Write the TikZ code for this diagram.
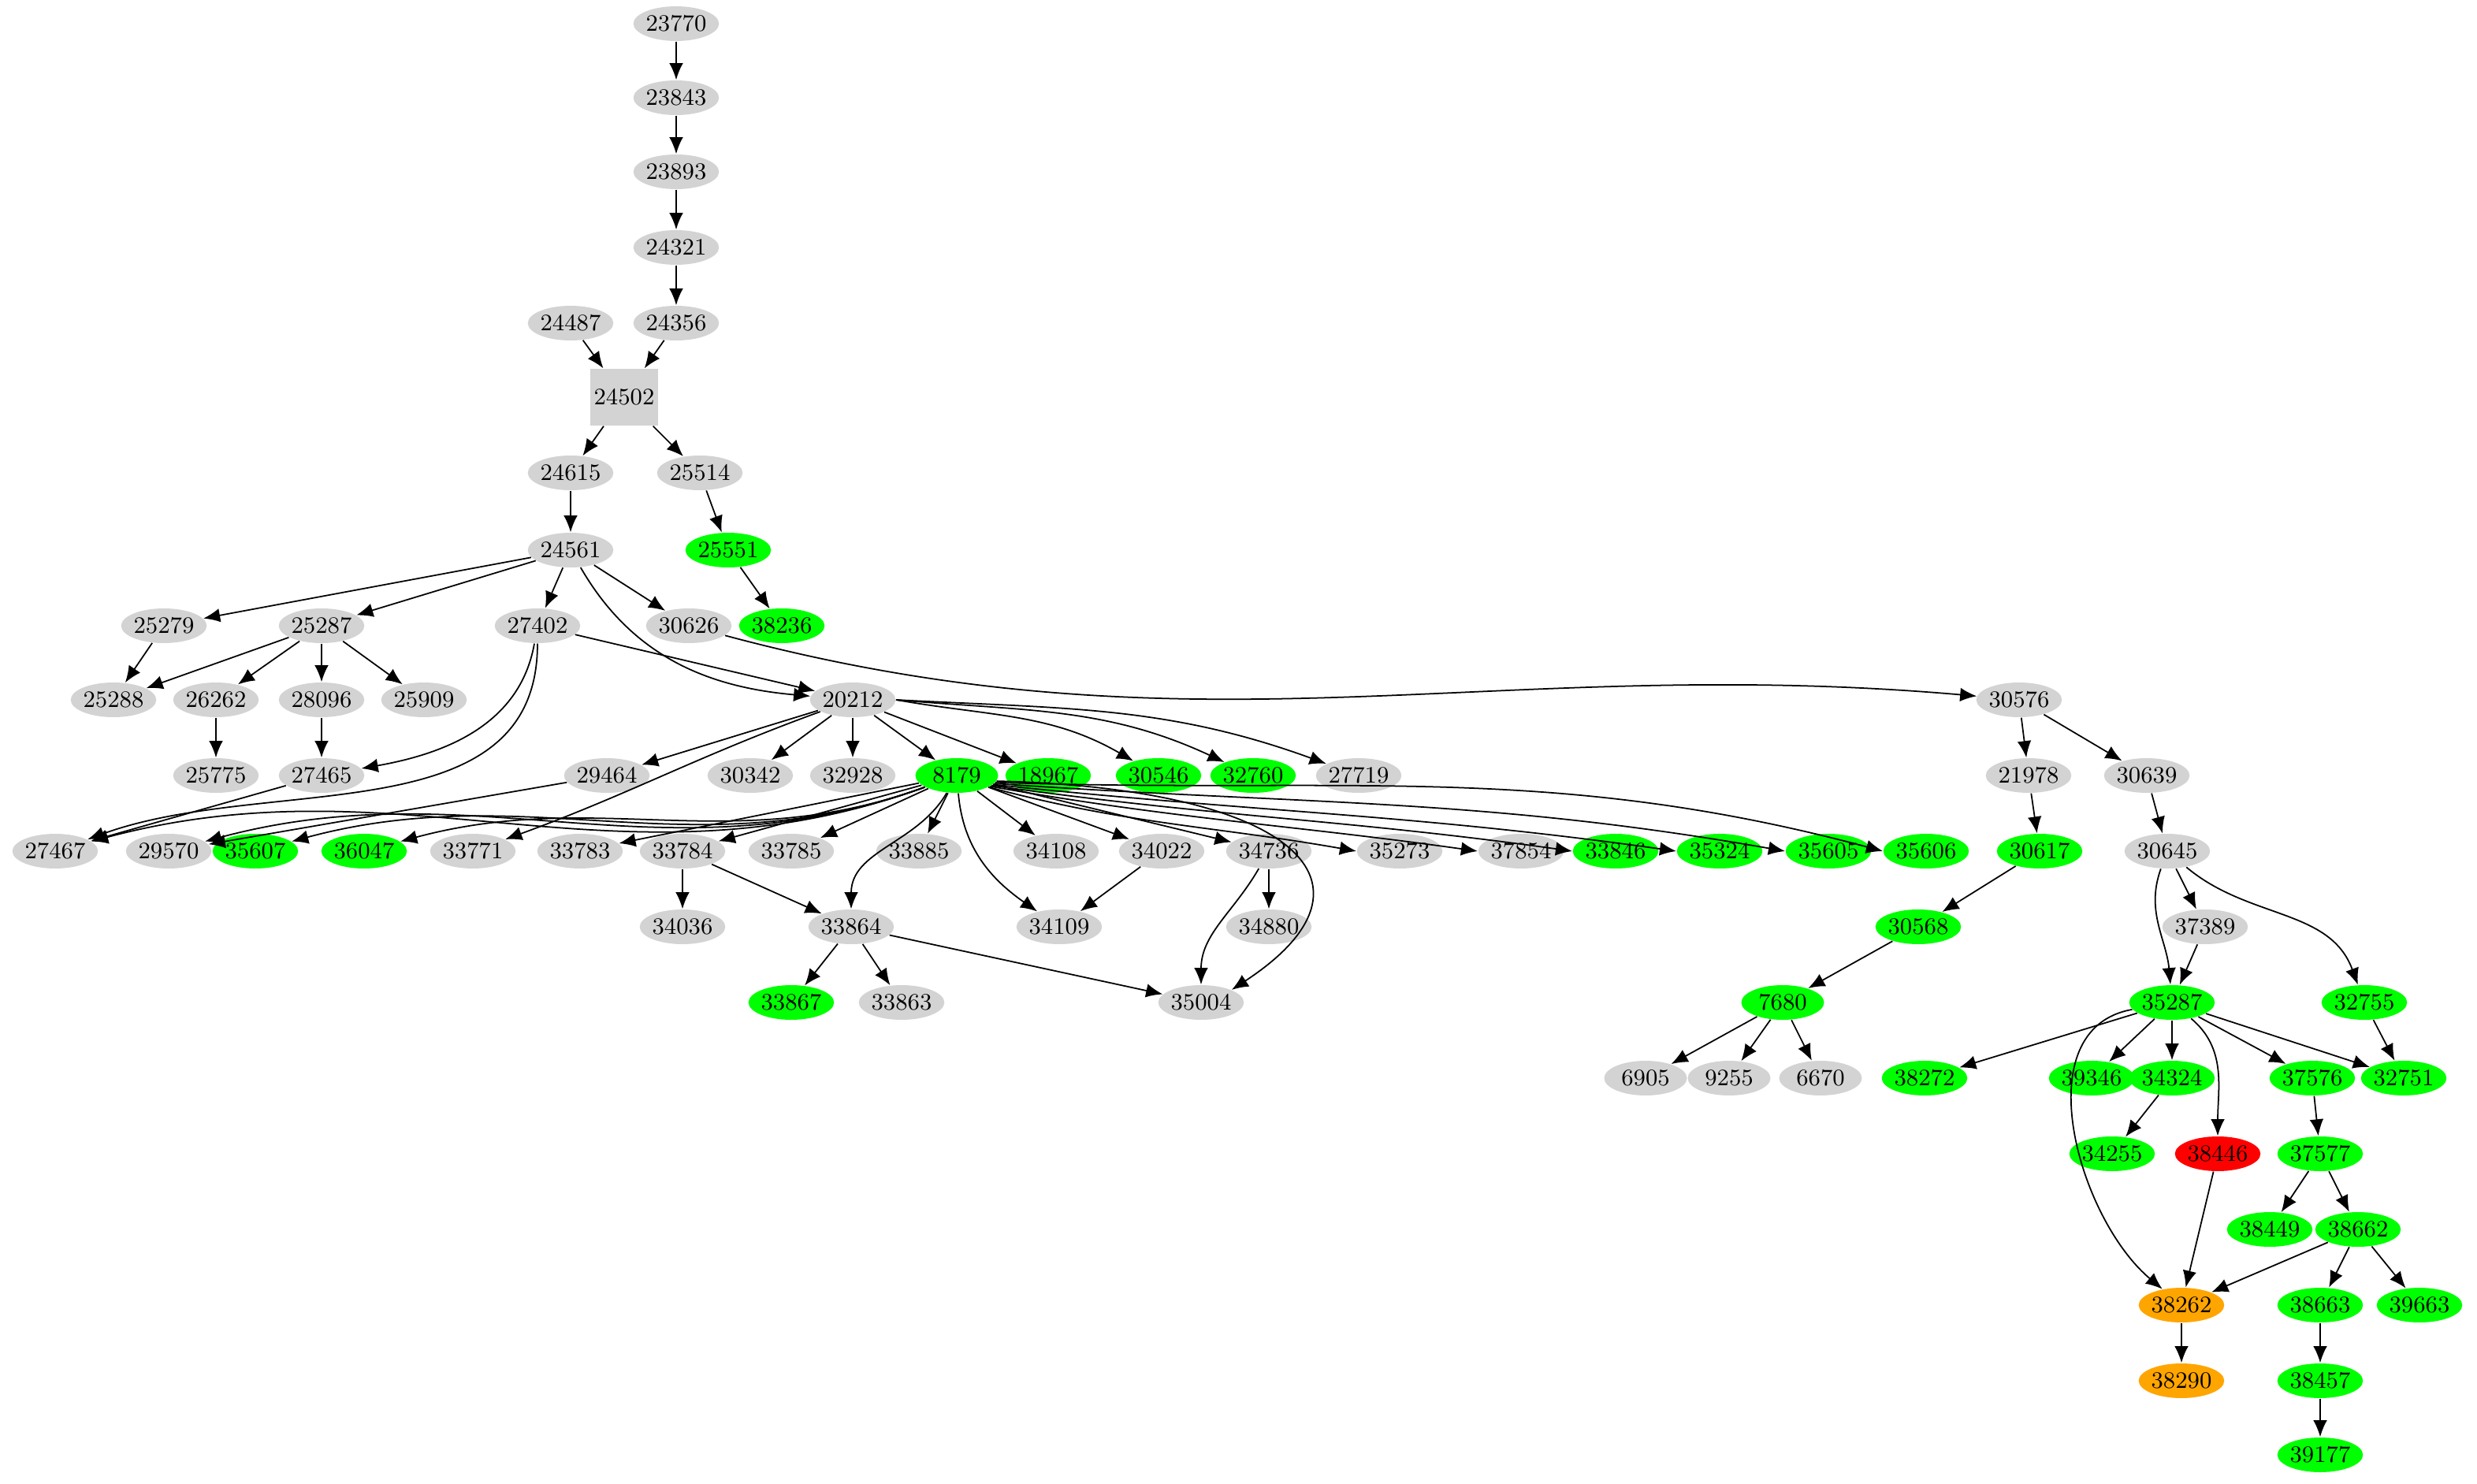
\documentclass[tikz,border=0pt]{standalone}
\usetikzlibrary{arrows.meta,shapes.geometric}
\definecolor{lgray}{HTML}{D3D3D3}
\definecolor{gvorange}{HTML}{FFA500}
\begin{document}
\begin{tikzpicture}[x=0.02cm,y=-0.02cm,
 nd/.style={ellipse,fill=lgray,minimum width=1.05cm,minimum height=0.44cm,inner sep=0pt,font=\fontsize{8.5}{10}\selectfont},
 g/.style={nd,fill=green},
 r/.style={nd,fill=red},
 o/.style={nd,fill=gvorange},
 bx/.style={nd,rectangle,minimum width=0.86cm,minimum height=0.72cm},
 e/.style={-{Latex[length=6pt,width=5pt]},line width=0.5pt}]
\useasboundingbox (0,0) rectangle (1571.5,941.5);
\node[nd] (23770) at (429,15) {23770};
\node[nd] (23843) at (429,62) {23843};
\node[nd] (23893) at (429,109) {23893};
\node[nd] (24321) at (429,157) {24321};
\node[nd] (24487) at (362,205) {24487};
\node[nd] (24356) at (429,205) {24356};
\node[bx] (24502) at (396,252) {24502};
\node[nd] (24615) at (362,300) {24615};
\node[nd] (25514) at (444,300) {25514};
\node[nd] (24561) at (362,349) {24561};
\node[g] (25551) at (462,349) {25551};
\node[nd] (25279) at (104,397) {25279};
\node[nd] (25287) at (204,397) {25287};
\node[nd] (27402) at (341,397) {27402};
\node[nd] (30626) at (437,397) {30626};
\node[g] (38236) at (496,397) {38236};
\node[nd] (25288) at (72,444) {25288};
\node[nd] (26262) at (137,444) {26262};
\node[nd] (28096) at (204,444) {28096};
\node[nd] (25909) at (269,444) {25909};
\node[nd] (20212) at (541,444) {20212};
\node[nd] (30576) at (1281,444) {30576};
\node[nd] (25775) at (137,492) {25775};
\node[nd] (27465) at (204,492) {27465};
\node[nd] (29464) at (385,492) {29464};
\node[nd] (30342) at (476,492) {30342};
\node[nd] (32928) at (541,492) {32928};
\node[g] (8179) at (607,492) {8179};
\node[g] (18967) at (665,492) {18967};
\node[g] (30546) at (735,492) {30546};
\node[g] (32760) at (795,492) {32760};
\node[nd] (27719) at (862,492) {27719};
\node[nd] (21978) at (1287,492) {21978};
\node[nd] (30639) at (1362,492) {30639};
\node[nd] (27467) at (35,540) {27467};
\node[nd] (29570) at (107,540) {29570};
\node[g] (35607) at (162,540) {35607};
\node[g] (36047) at (231,540) {36047};
\node[nd] (33771) at (300,540) {33771};
\node[nd] (33783) at (368,540) {33783};
\node[nd] (33784) at (433,540) {33784};
\node[nd] (33785) at (502,540) {33785};
\node[nd] (33885) at (583,540) {33885};
\node[nd] (34108) at (670,540) {34108};
\node[nd] (34022) at (737,540) {34022};
\node[nd] (34736) at (805,540) {34736};
\node[nd] (35273) at (888,540) {35273};
\node[nd] (37854) at (965,540) {37854};
\node[g] (33846) at (1025,540) {33846};
\node[g] (35324) at (1091,540) {35324};
\node[g] (35605) at (1160,540) {35605};
\node[g] (35606) at (1222,540) {35606};
\node[g] (30617) at (1294,540) {30617};
\node[nd] (30645) at (1375,540) {30645};
\node[nd] (34036) at (433,588) {34036};
\node[nd] (33864) at (540,588) {33864};
\node[nd] (34109) at (672,588) {34109};
\node[nd] (34880) at (805,588) {34880};
\node[g] (30568) at (1217,588) {30568};
\node[nd] (37389) at (1399,588) {37389};
\node[g] (33867) at (502,636) {33867};
\node[nd] (33863) at (572,636) {33863};
\node[nd] (35004) at (762,636) {35004};
\node[g] (7680) at (1131,636) {7680};
\node[g] (35287) at (1378,636) {35287};
\node[g] (32755) at (1500,636) {32755};
\node[nd] (6905) at (1044,684) {6905};
\node[nd] (9255) at (1097,684) {9255};
\node[nd] (6670) at (1155,684) {6670};
\node[g] (38272) at (1221,684) {38272};
\node[g] (39346) at (1327,684) {39346};
\node[g] (34324) at (1378,684) {34324};
\node[g] (37576) at (1467,684) {37576};
\node[g] (32751) at (1525,684) {32751};
\node[g] (34255) at (1340,732) {34255};
\node[r] (38446) at (1407,732) {38446};
\node[g] (37577) at (1472,732) {37577};
\node[g] (38449) at (1440,780) {38449};
\node[g] (38662) at (1496,780) {38662};
\node[o] (38262) at (1384,828) {38262};
\node[g] (38663) at (1472,828) {38663};
\node[g] (39663) at (1535,828) {39663};
\node[o] (38290) at (1384,876) {38290};
\node[g] (38457) at (1472,876) {38457};
\node[g] (39177) at (1472,923) {39177};
\foreach \a/\b in {23770/23843,23843/23893,23893/24321,24321/24356,24356/24502,24487/24502,24502/24615,24502/25514,24615/24561,25514/25551,25551/38236,24561/25279,24561/25287,24561/27402,24561/30626,25279/25288,25287/25288,25287/26262,25287/28096,25287/25909,26262/25775,28096/27465,27465/27467,27402/20212,29464/29570,20212/29464,20212/30342,20212/32928,20212/8179,20212/18967,
8179/33783,8179/33784,8179/33785,8179/33885,8179/34108,8179/34022,8179/34736,33784/34036,33784/33864,34022/34109,34736/34880,33864/33867,33864/33863,33864/35004,
30576/21978,30576/30639,21978/30617,30617/30568,30568/7680,7680/6905,7680/9255,7680/6670,30639/30645,37389/35287,30645/37389,32755/32751,35287/38272,35287/39346,35287/34324,35287/37576,35287/32751,34324/34255,37576/37577,37577/38449,37577/38662,38662/38262,38662/38663,38662/39663,38446/38262,38262/38290,38663/38457,38457/39177}
 \draw[e] (\a) -- (\b);
\draw[e] (30626) to[out=-15,in=175] (30576);
\draw[e] (24561) to[out=-60,in=175] (20212);
\draw[e] (27402) to[out=-100,in=10] (27465);
\draw[e] (27402) to[out=-90,in=20] (27467);
\draw[e] (20212) to[out=-160,in=20] (33771);
\draw[e] (20212.east) to[out=-10,in=150] (30546);
\draw[e] (20212.east) to[out=-5,in=155] (32760);
\draw[e] (20212.east) to[out=-3,in=160] (27719);
\draw[e] (8179) to[out=-160,in=15] (27467);
\draw[e] (8179) to[out=-160,in=15] (29570);
\draw[e] (8179) to[out=-160,in=15] (35607);
\draw[e] (8179) to[out=-160,in=15] (36047);
\draw[e] (8179.-20) to[out=-15,in=170] (35273.west);
\draw[e] (8179.-18) to[out=-10,in=172] (37854.west);
\draw[e] (8179.-16) to[out=-8,in=172] (33846.west);
\draw[e] (8179.-14) to[out=-6,in=172] (35324.west);
\draw[e] (8179.-12) to[out=-4,in=170] (35605.west);
\draw[e] (8179.-10) to[out=-2,in=165] (35606.west);
\draw[e] (8179) to[out=-120,in=90] (33864);
\draw[e] (8179) to[out=-85,in=145] (34109);
\draw[e] (8179.-8) .. controls (820,500) and (885,560) .. (35004.north east);
\draw[e] (34736) to[out=-120,in=90] (35004);
\draw[e] (30645) to[out=-110,in=95] (35287);
\draw[e] (30645) to[out=-40,in=110] (32755);
\draw[e] (35287) to[out=-170,in=140] (38262);
\draw[e] (35287) to[out=-40,in=90] (38446);
\end{tikzpicture}
\end{document}
